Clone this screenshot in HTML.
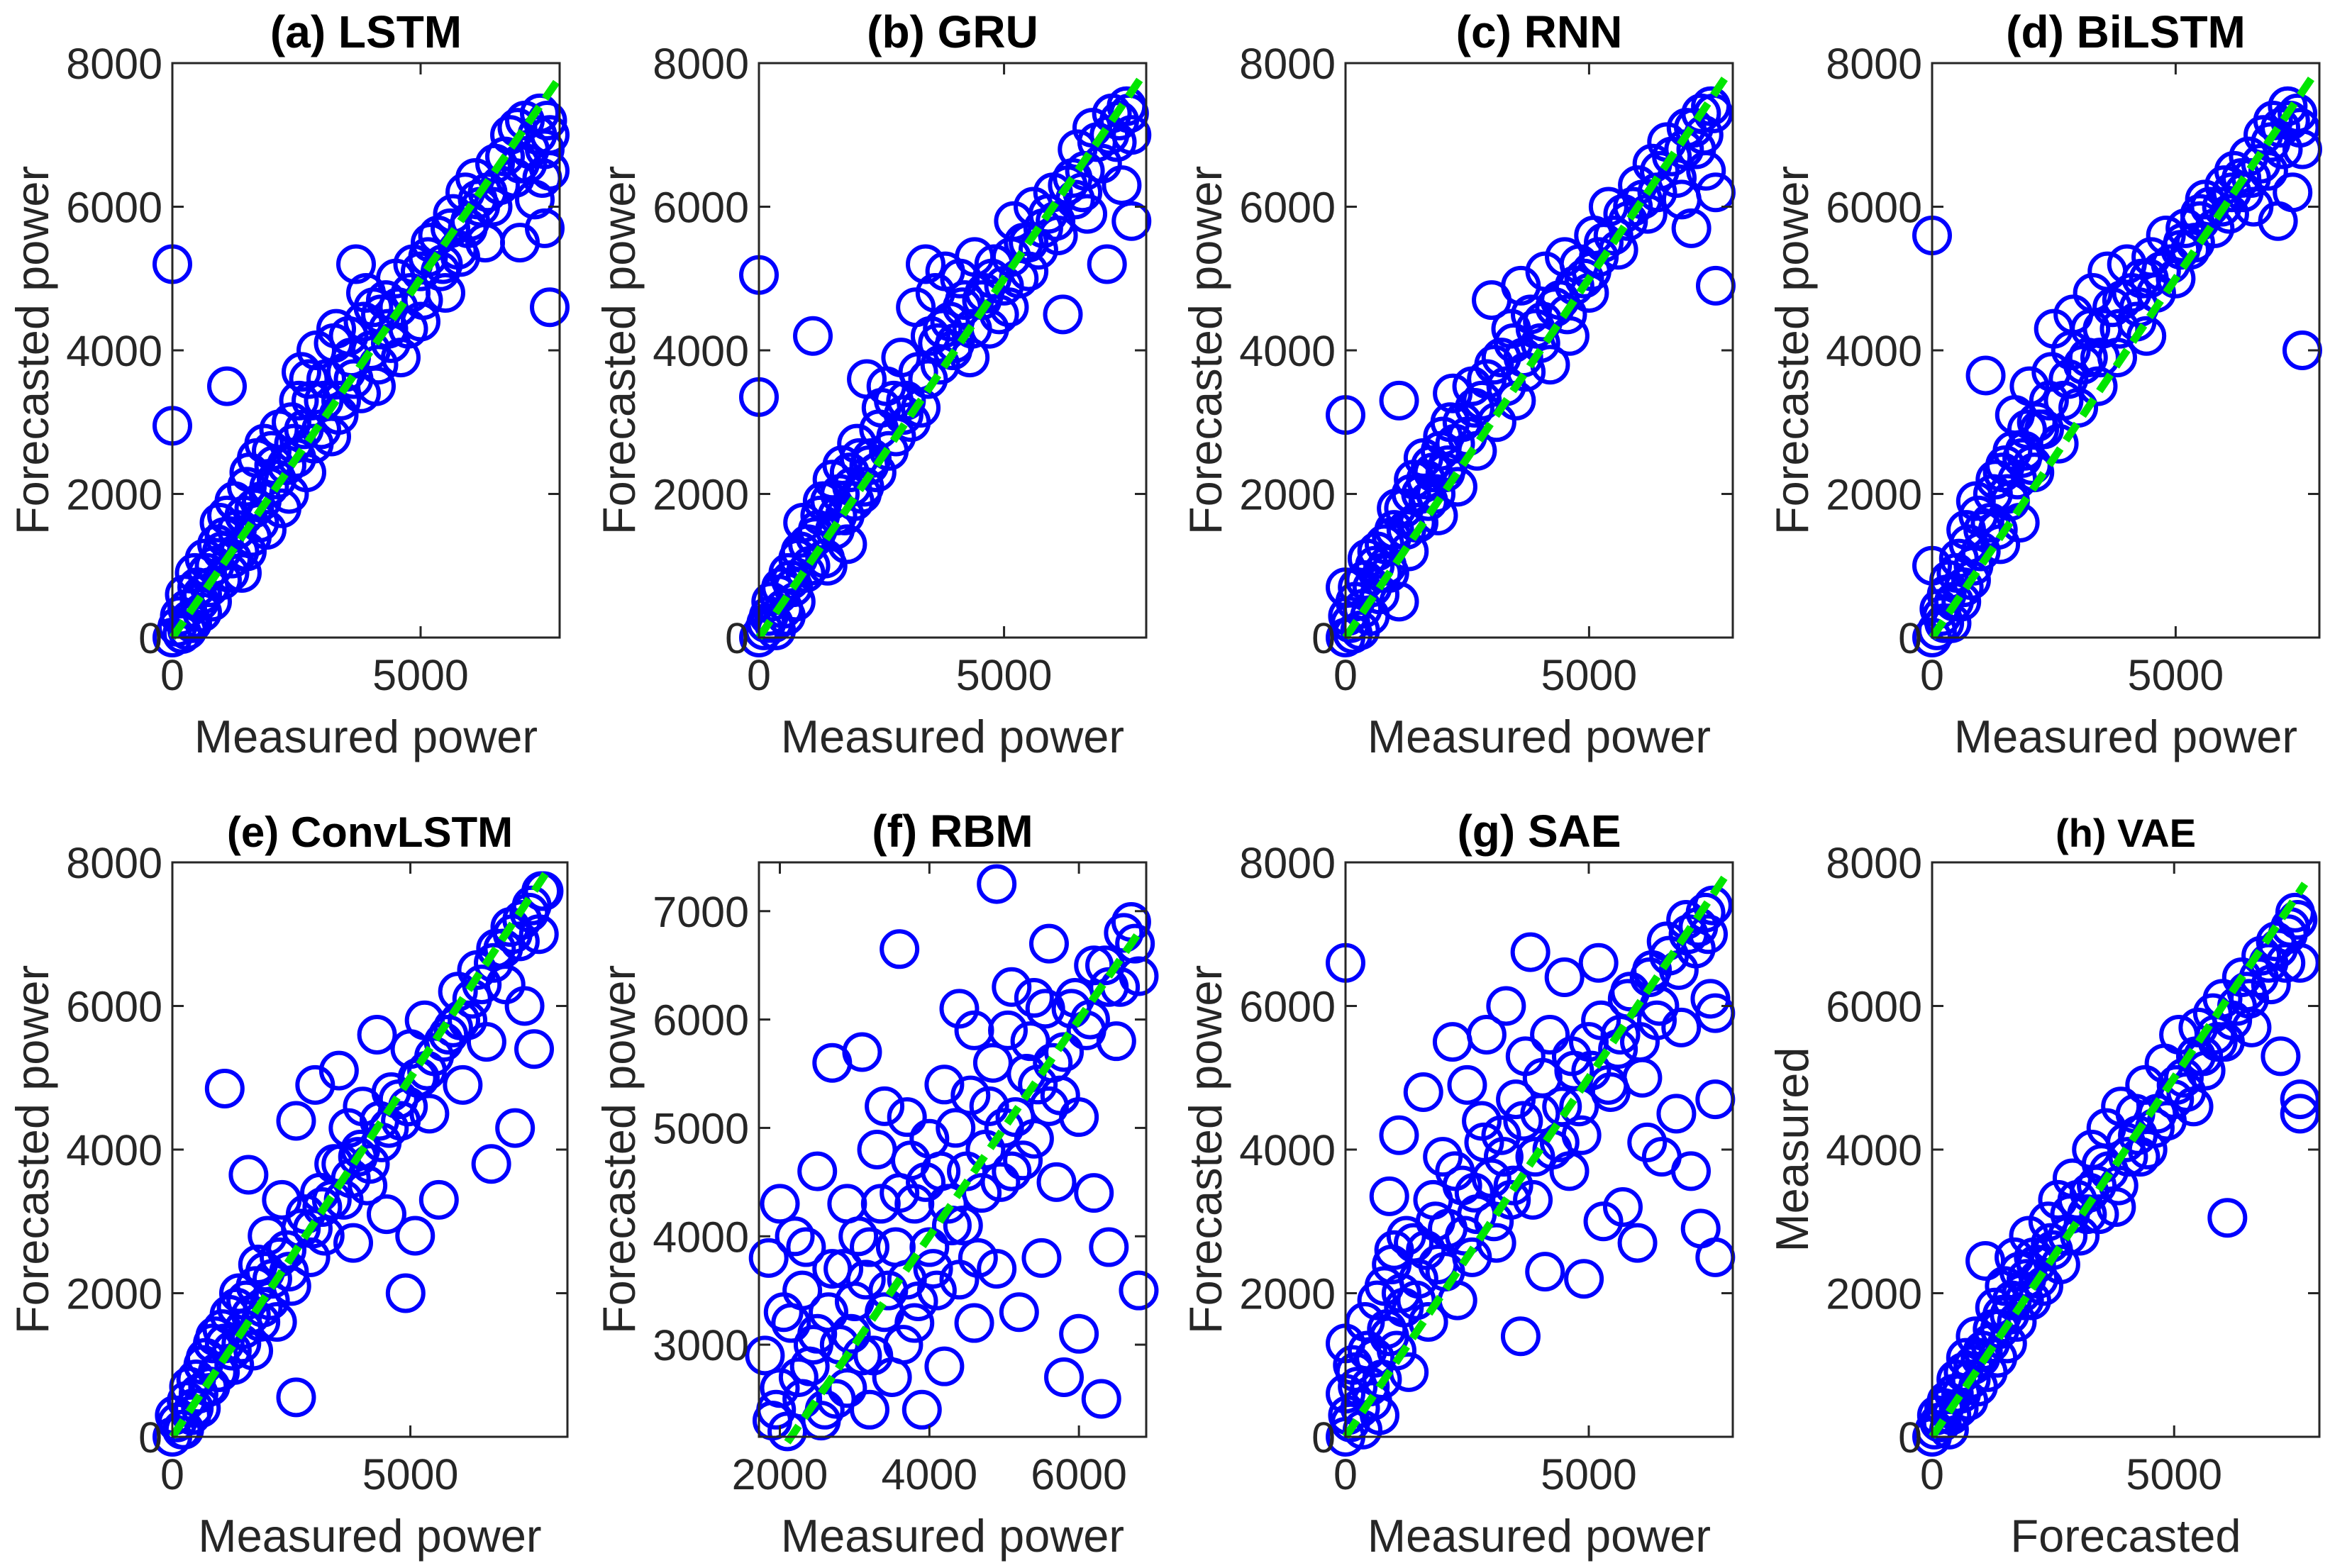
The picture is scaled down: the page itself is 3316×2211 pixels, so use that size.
<!DOCTYPE html>
<html><head><meta charset="utf-8"><style>
html,body{margin:0;padding:0;background:#fff;}
svg{display:block;font-family:"Liberation Sans",sans-serif;}
</style></head><body>
<svg id="fig" width="3316" height="2211" viewBox="0 0 3316 2211" xmlns="http://www.w3.org/2000/svg"></svg>
<script>
// ---------- data (measured x, forecast y) ----------
const lstmX=[0,0,0,100,200,300,300,400,500,600,600,700,800,900,1000,1000,1100,1100,1200,1300,1400,1500,1500,1600,1700,1800,1900,2000,2100,2200,2300,2400,2500,2600,2700,2800,2900,3000,3100,3200,3300,3400,3500,3600,3700,3800,3900,4000,4100,4200,4300,4400,4500,4600,4800,5000,5000,5200,5400,5500,5600,5800,5900,6000,6100,6200,6300,6500,6600,6800,6900,7000,7000,7100,7200,7300,7400,7500,7500,7600,7600,7600];
const lstmY=[0,5200,2950,150,50,400,100,200,700,350,600,900,500,1300,800,1200,1700,3500,1100,1500,900,2100,1200,1400,2500,1900,1500,2600,2200,1800,2400,3000,2500,3700,2300,3300,4000,2900,3600,2800,4300,3300,3700,3900,5200,3400,4800,4000,3500,4500,4700,4100,5000,3900,4800,4400,5100,5500,5100,4800,5700,5300,6200,5800,6400,6000,5500,6600,6300,7000,6400,5500,6600,7200,6800,6100,7300,6800,5700,6500,4600,7000];
const lstmX2=[150,250,350,450,550,650,750,850,950,1050,1150,1250,1350,1450,1550,1650,1750,1850,1950,2050,2150,2350,2450,2550,2650,2750,2850,3050,3250,3350,3550,3650,3850,4050,4150,4350,4550,4750,4850,5050,5150,5350,5450,5650,5750,5950,6150,6350,6450,6700,6950,7150,7350,7450,7550];
const lstmY2=[300,600,250,900,500,1100,700,1000,1600,1400,900,1900,1200,1700,2300,1800,1600,2700,2100,2400,2900,2000,2700,3300,2900,3600,2700,3300,4100,3100,4200,3600,4400,4600,3800,4300,4600,4300,5200,4700,5300,5600,5200,5900,5400,5700,6100,6200,6000,6700,7100,6600,7000,6400,7200];

const gruX=[0,0,0,100,200,300,400,500,600,700,800,900,1000,1100,1200,1300,1400,1500,1600,1700,1800,1900,2000,2100,2200,2300,2400,2500,2600,2800,2900,3000,3200,3300,3400,3500,3600,3700,3800,3900,4000,4100,4200,4300,4400,4600,4700,4800,5000,5100,5200,5400,5500,5600,5800,6000,6100,6200,6400,6500,6600,6700,6800,7000,7100,7200,7300,7400,7500,7600,7600];
const gruY=[0,5050,3350,100,300,200,600,400,900,700,1100,1600,1300,4200,1500,1900,1000,2200,1700,2400,1300,2100,2700,2000,3600,2500,2300,3200,3500,2800,3900,3300,4600,3200,5200,4200,4800,3800,5100,4400,4100,5000,4700,3900,5300,4800,4300,5200,4900,4600,5800,5500,5100,6000,5700,6200,5600,4500,6400,6800,6200,5900,7100,6600,5200,7300,6900,6300,7400,7000,5800];
const gruX2=[150,250,350,450,550,650,750,850,950,1050,1150,1250,1350,1450,1550,1650,1750,1850,1950,2050,2150,2250,2450,2650,2750,2950,3100,3250,3450,3650,3750,3950,4150,4350,4550,4750,4900,5150,5300,5500,5700,5900,6050,6300,6450,6650,6900,7150,7350,7550];
const gruY2=[200,500,100,700,300,800,500,1200,900,1000,1400,1700,1100,1900,1500,2000,1700,2300,1900,2500,2100,2400,2900,2600,3300,3100,3000,3700,3600,4100,4300,4000,4600,4300,4700,5000,4500,5300,5000,5500,5400,5900,5800,6300,6100,6500,6900,7000,7200,7300];

const rnnX=[0,0,0,100,150,200,300,400,500,600,700,800,900,1000,1100,1100,1200,1300,1400,1500,1600,1700,1800,1900,2000,2100,2200,2300,2400,2600,2700,2800,3000,3100,3200,3400,3500,3600,3700,3800,4000,4100,4200,4400,4500,4600,4800,5000,5100,5200,5400,5600,5800,6000,6200,6300,6400,6600,6800,6900,7000,7100,7200,7300,7400,7500,7600,7600];
const rnnY=[0,3100,700,200,50,500,100,800,300,1000,600,1300,900,1500,3300,500,1800,1200,2200,1600,2500,1900,2300,1700,2800,2400,3400,2100,3000,3500,2600,3300,4700,3000,3900,4300,3300,4900,3700,4500,4100,5100,3800,4700,5300,4200,5200,4800,5600,5300,6000,5400,5800,6300,5900,6600,6200,6900,6400,6100,7100,5700,6800,7300,6500,7400,6200,4900];
const rnnX2=[50,250,350,450,550,650,750,850,950,1050,1250,1350,1450,1550,1650,1750,1850,1950,2050,2150,2250,2500,2650,2900,3050,3300,3450,3650,3900,4050,4300,4550,4700,4900,5050,5300,5500,5700,5900,6100,6450,6700,6950,7150,7350,7550];
const rnnY2=[300,700,400,1100,700,1200,900,1000,1400,1800,1500,2000,1600,2000,2200,2400,2000,2600,2300,3000,2700,2800,3200,3600,3800,3500,4100,3900,4300,4400,4600,4500,4900,5000,5100,5500,5600,5900,6000,6100,6500,6700,6800,7100,7000,7300];

const biX=[0,0,0,100,200,300,400,500,600,700,800,900,1000,1100,1200,1300,1400,1500,1600,1700,1800,1900,2000,2100,2200,2400,2500,2600,2800,2900,3000,3200,3300,3400,3500,3600,3800,3900,4000,4200,4300,4400,4500,4600,4800,5000,5100,5200,5400,5500,5600,5800,6000,6100,6200,6400,6500,6600,6800,6900,7000,7100,7200,7300,7400,7500,7600,7600];
const biY=[0,5600,1000,100,300,600,200,900,500,1500,800,1900,1200,3650,1600,2200,1300,2400,1900,3100,1600,2600,3500,2300,2900,3300,4300,2700,3600,4500,3200,3900,4800,3500,4300,5100,3900,4700,5200,4400,5000,4200,5300,4800,5600,5000,5400,5700,5500,5900,6100,5700,6300,5900,6500,6200,6700,6000,7000,6500,7200,5800,6800,7400,6200,7300,6800,4000];
const biX2=[150,250,350,450,550,650,750,850,950,1050,1250,1350,1450,1550,1650,1750,1850,1950,2050,2150,2300,2450,2700,2850,3100,3250,3450,3700,3850,4100,4250,4450,4700,4900,5150,5300,5500,5700,5950,6150,6350,6550,6750,6950,7150,7350,7550];
const biY2=[400,200,800,500,1100,700,1300,1000,1700,1500,2000,1500,2300,2000,2600,2200,2500,2900,2400,3000,2900,3700,3300,4000,3800,4300,3900,4600,4300,4800,4600,5000,5100,5200,5500,5400,5800,6000,6000,6200,6400,6400,6600,6900,7100,7200,7100];

const convX=[0,100,200,300,400,500,600,700,800,900,1000,1100,1100,1200,1300,1400,1500,1600,1700,1800,1900,2000,2100,2200,2300,2400,2500,2600,2600,2800,2900,3000,3100,3200,3400,3500,3600,3700,3800,3900,4000,4100,4300,4400,4500,4600,4800,4900,5000,5100,5200,5300,5400,5600,5800,6000,6100,6200,6400,6600,6700,6800,7000,7100,7200,7300,7400,7500,7600,7700,7800];
const convY=[0,200,100,500,300,800,400,1100,700,1400,900,4850,1300,1700,1000,2000,1500,3650,1200,2400,1800,2800,2200,1600,3300,2600,2100,4400,550,3100,2500,4900,3400,2800,3800,5100,3300,4300,2700,3900,4600,3500,5600,4100,3100,4800,4400,2000,5400,2800,5000,5800,4500,3300,5600,6200,4900,5800,6500,5500,3800,6800,6300,7100,4300,6900,6000,7300,5400,7000,7600];
const convX2=[50,250,350,450,550,650,750,850,950,1050,1250,1350,1450,1550,1650,1750,1850,1950,2050,2250,2450,2700,2950,3150,3350,3550,3750,3950,4150,4350,4550,4750,4950,5150,5350,5500,5700,5900,6050,6300,6500,6750,6950,7150,7350,7550,7750];
const convY2=[300,100,700,400,600,1000,700,1300,900,1500,1200,1800,1300,1900,1700,2100,1600,2300,1900,2500,2300,2900,2900,3200,3300,3800,3600,4000,3800,4400,4300,4700,4600,5000,5100,5300,5500,5700,5800,6100,6300,6600,6800,7000,7200,7400,7600];

const rbmX=[1800,1850,1900,2000,2000,2100,2150,2200,2300,2300,2400,2500,2500,2600,2700,2700,2800,2900,2900,3000,3100,3100,3200,3200,3300,3400,3400,3500,3600,3600,3700,3700,3800,3800,3900,4000,4000,4100,4200,4200,4300,4400,4400,4500,4600,4600,4700,4800,4900,4900,5000,5100,5100,5200,5300,5400,5400,5500,5600,5600,5700,5800,5800,5900,6000,6000,6100,6200,6200,6300,6400,6400,6500,6600,6700,6800,6800];
const rbmY=[2900,3800,2300,2600,4300,2200,3200,4000,2500,3500,2800,4600,3100,2400,3700,5600,3000,2600,4300,3400,5700,2900,3900,2400,4800,3300,5200,2700,4400,6650,3600,5100,3200,4300,2400,3900,4900,3500,5400,2800,4100,6100,3600,4600,5900,3200,4400,5200,7250,3700,5000,4600,6300,3300,5500,4900,6200,3800,5200,6700,4500,5700,2700,6100,5100,3100,5900,4400,6500,2500,6300,3900,5800,6800,6900,6400,3500];
const rbmX2=[1950,2050,2250,2350,2450,2550,2650,2750,2850,2950,3050,3150,3250,3350,3450,3550,3650,3750,3850,3950,4050,4150,4250,4350,4450,4550,4650,4750,4850,4950,5050,5150,5250,5350,5450,5550,5650,5750,5950,6150,6350,6550,6750];
const rbmY2=[2400,3300,2700,3900,3000,2300,3300,2500,3700,3100,4000,3600,2900,4300,3500,3900,3000,4700,3400,4500,3700,4600,4300,5000,4100,5300,3800,4800,5600,4500,5900,5100,4700,5800,5400,6100,5600,5300,6200,6000,6500,6300,6700];

const saeX=[0,0,0,0,100,200,300,400,500,600,700,800,900,900,1000,1100,1200,1300,1400,1500,1600,1700,1800,1900,2000,2100,2200,2300,2400,2500,2600,2700,2800,2900,3000,3100,3200,3300,3400,3500,3600,3700,3800,3900,4000,4100,4200,4400,4500,4600,4700,4800,4900,5000,5200,5300,5400,5600,5700,5800,6000,6100,6200,6300,6400,6500,6600,6800,6900,7000,7100,7200,7300,7400,7500,7600,7600,7600];
const saeY=[0,600,1300,6600,200,900,400,1600,700,1100,300,2100,3350,1400,2600,4200,1800,900,2700,2200,4800,1600,3300,2400,3900,2900,5500,1900,3500,4900,2500,3100,4400,5600,3600,2700,4200,6000,3300,4700,1400,5300,6750,3900,4500,2300,5600,4100,6400,3700,5100,4600,2200,5500,6600,3000,4900,5400,3200,6100,2700,5000,4100,6500,5800,3900,6900,4500,5700,7200,3700,6800,2900,7300,6100,2500,5900,4700];
const saeX2=[50,150,250,350,450,550,650,750,850,950,1050,1150,1250,1450,1650,1850,2050,2250,2450,2650,2850,3050,3250,3450,3650,3850,4050,4250,4450,4650,4850,5050,5250,5450,5650,5850,6050,6250,6450,6650,6850,7050,7250,7450,7550];
const saeY2=[300,1000,700,100,1200,500,1900,800,1500,2400,1200,2000,2800,1900,2600,3000,2300,3700,2800,3400,4100,3000,3900,3500,4400,3300,5000,4000,4600,5300,4200,5100,5800,4800,5600,6200,5500,6400,6000,6700,6500,7000,7100,7000,7400];

const vaeX=[0,50,100,200,300,400,500,600,700,800,900,1000,1100,1200,1300,1400,1500,1600,1700,1800,1900,2000,2100,2200,2400,2500,2600,2800,2900,3000,3200,3300,3400,3500,3600,3800,3900,4000,4200,4300,4400,4600,4800,5000,5100,5200,5400,5500,5600,5800,5900,6000,6100,6200,6400,6500,6600,6800,7000,7100,7200,7300,7400,7500,7600,7600,7600];
const vaeY=[0,100,300,200,500,300,800,600,1100,800,1400,1100,2450,1300,1800,1500,2100,1700,2500,2300,1900,2800,2500,2200,3000,2600,3300,2800,3600,3300,3100,4000,3500,3800,4300,3200,4600,4100,4500,3900,4900,4300,5200,4700,5600,5000,4600,5700,5300,5900,5500,6100,3050,5800,6400,6200,5700,6700,6300,6900,5300,6600,7100,7300,6600,4700,4500];
const vaeX2=[150,250,350,450,550,650,750,850,950,1050,1150,1250,1350,1450,1550,1650,1750,1850,1950,2050,2150,2300,2450,2650,2850,3050,3250,3450,3650,3850,4050,4250,4450,4650,4850,5050,5250,5450,5650,5850,6050,6300,6550,6750,6950,7150,7350,7550];
const vaeY2=[200,400,100,600,400,900,500,1000,700,1200,900,1500,1100,1700,1300,1900,1600,2000,2200,1900,2400,2100,2700,2400,3100,2800,3400,3100,3700,3500,3900,4200,4000,4500,4400,4900,4800,5300,5100,5600,5500,6000,6100,6400,6600,6800,7000,7200];

const panels=[
 {name:'lstm',title:'(a) LSTM',xs:lstmX.concat(lstmX2),ys:lstmY.concat(lstmY2),x0:243,x1:789,y0:89,y1:899,xmin:0,xmax:7800,ymin:0,ymax:8000,xt:[0,5000],yt:[0,2000,4000,6000,8000],xl:'Measured power',yl:'Forecasted power',d0:0,d1:7750,tfs:64},
 {name:'gru',title:'(b) GRU',xs:gruX.concat(gruX2),ys:gruY.concat(gruY2),x0:1070,x1:1616,y0:89,y1:899,xmin:0,xmax:7900,ymin:0,ymax:8000,xt:[0,5000],yt:[0,2000,4000,6000,8000],xl:'Measured power',yl:'Forecasted power',d0:0,d1:7800,tfs:64},
 {name:'rnn',title:'(c) RNN',xs:rnnX.concat(rnnX2),ys:rnnY.concat(rnnY2),x0:1897,x1:2443,y0:89,y1:899,xmin:0,xmax:7950,ymin:0,ymax:8000,xt:[0,5000],yt:[0,2000,4000,6000,8000],xl:'Measured power',yl:'Forecasted power',d0:0,d1:7800,tfs:64},
 {name:'bilstm',title:'(d) BiLSTM',xs:biX.concat(biX2),ys:biY.concat(biY2),x0:2724,x1:3270,y0:89,y1:899,xmin:0,xmax:7950,ymin:0,ymax:8000,xt:[0,5000],yt:[0,2000,4000,6000,8000],xl:'Measured power',yl:'Forecasted power',d0:0,d1:7800,tfs:64},
 {name:'convlstm',title:'(e) ConvLSTM',xs:convX.concat(convX2),ys:convY.concat(convY2),x0:243,x1:800,y0:1216,y1:2026,xmin:0,xmax:8300,ymin:0,ymax:8000,xt:[0,5000],yt:[0,2000,4000,6000,8000],xl:'Measured power',yl:'Forecasted power',d0:0,d1:7850,tfs:60},
 {name:'rbm',title:'(f) RBM',xs:rbmX.concat(rbmX2),ys:rbmY.concat(rbmY2),x0:1070,x1:1616,y0:1216,y1:2026,xmin:1720,xmax:6900,ymin:2150,ymax:7450,xt:[2000,4000,6000],yt:[3000,4000,5000,6000,7000],xl:'Measured power',yl:'Forecasted power',d0:2100,d1:6850,tfs:64},
 {name:'sae',title:'(g) SAE',xs:saeX.concat(saeX2),ys:saeY.concat(saeY2),x0:1897,x1:2443,y0:1216,y1:2026,xmin:0,xmax:7960,ymin:0,ymax:8000,xt:[0,5000],yt:[0,2000,4000,6000,8000],xl:'Measured power',yl:'Forecasted power',d0:0,d1:7800,tfs:64},
 {name:'vae',title:'(h) VAE',xs:vaeX.concat(vaeX2),ys:vaeY.concat(vaeY2),x0:2724,x1:3270,y0:1216,y1:2026,xmin:0,xmax:8000,ymin:0,ymax:8000,xt:[0,5000],yt:[0,2000,4000,6000,8000],xl:'Forecasted',yl:'Measured',d0:0,d1:7700,tfs:56}
];

const NS='http://www.w3.org/2000/svg';
const svg=document.getElementById('fig');
function mk(tag,attrs,parent){const e=document.createElementNS(NS,tag);for(const k in attrs)e.setAttribute(k,attrs[k]);(parent||svg).appendChild(e);return e;}

panels.forEach(p=>{
  const g=mk('g',{});
  
  
  const sx=v=>p.x0+(v-p.xmin)/(p.xmax-p.xmin)*(p.x1-p.x0);
  const sy=v=>p.y1-(v-p.ymin)/(p.ymax-p.ymin)*(p.y1-p.y0);
  const mg=mk('g',{fill:'none',stroke:'#0000ff','stroke-width':6},g);
  
  
  p.xs.forEach((x,i)=>{
    const c=mk('circle',{cx:sx(x),cy:sy(p.ys[i]),r:25},mg);
    
    
  });
  const ln=mk('line',{x1:sx(p.d0),y1:sy(p.d0),x2:sx(p.d1),y2:sy(p.d1),stroke:'#00e600','stroke-width':11,'stroke-dasharray':'28 14'},g);
  
  
  const bx=mk('rect',{x:p.x0,y:p.y0,width:p.x1-p.x0,height:p.y1-p.y0,fill:'none',stroke:'#262626','stroke-width':3},g);
  
  
  p.xt.forEach(v=>{
    const X=sx(v);
    mk('line',{x1:X,y1:p.y1,x2:X,y2:p.y1-16,stroke:'#262626','stroke-width':3},g);
    mk('line',{x1:X,y1:p.y0,x2:X,y2:p.y0+16,stroke:'#262626','stroke-width':3},g);
    const t=mk('text',{x:X,y:p.y1+74,'font-size':61,'text-anchor':'middle',fill:'#262626'},g);
    t.textContent=v;
    
    
  });
  p.yt.forEach(v=>{
    const Y=sy(v);
    mk('line',{x1:p.x0,y1:Y,x2:p.x0+16,y2:Y,stroke:'#262626','stroke-width':3},g);
    mk('line',{x1:p.x1,y1:Y,x2:p.x1-16,y2:Y,stroke:'#262626','stroke-width':3},g);
    const t=mk('text',{x:p.x0-14,y:Y+22,'font-size':61,'text-anchor':'end',fill:'#262626'},g);
    t.textContent=v;
    
    
  });
  const cx=(p.x0+p.x1)/2;
  const tt=mk('text',{x:cx,y:p.y0-22,'font-size':p.tfs,'font-weight':'bold','text-anchor':'middle',fill:'#000'},g);
  tt.textContent=p.title;
  
  
  const xl=mk('text',{x:cx,y:p.y1+162,'font-size':65,'text-anchor':'middle',fill:'#262626'},g);
  xl.textContent=p.xl;
  
  
  const lx=p.x0-175, ly=(p.y0+p.y1)/2;
  const yl=mk('text',{x:lx,y:ly,'font-size':65,'text-anchor':'middle',fill:'#262626',transform:'rotate(-90 '+lx+' '+ly+')'},g);
  yl.textContent=p.yl;
  
  
});
</script>
</body></html>
